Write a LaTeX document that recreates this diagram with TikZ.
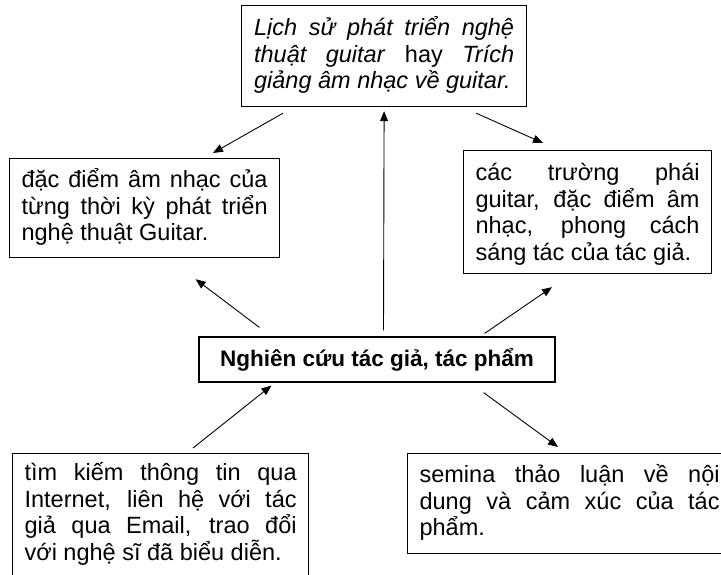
\documentclass[tikz,border=0pt]{standalone}
\usepackage{fontspec}
\setmainfont{Liberation Sans}
\usetikzlibrary{arrows.meta}

\hyphenpenalty=10000
\exhyphenpenalty=10000
\tolerance=10000

\newcommand{\boxfont}{\fontsize{23.5bp}{26.5bp}\selectfont}
\newcommand{\titlefont}{\fontsize{22.5bp}{26.5bp}\selectfont\bfseries}

\begin{document}
\begin{tikzpicture}[
    x=1bp, y=-1bp,
    every node/.style={font=\boxfont},
    box/.style={draw, line width=1.2bp, anchor=north west, align=justify, inner xsep=12bp, inner ysep=0pt},
    title/.style={draw, line width=1.2bp, minimum width=356bp, minimum height=45bp, font=\titlefont},
    arrow/.style={-{Triangle[length=10bp, width=8bp]}, line width=0.9bp}
]
\useasboundingbox (0,0) rectangle (721,575);

% central topic
\node[title] (topic) at (377,359.5) {Nghiên cứu tác giả, tác phẩm};

% boxes round it
\node[box, inner xsep=12.5bp, text width=260bp, text height=30bp, text depth=71bp] (history) at (241,5)
    {\textit{Lịch sử phát triển nghệ\linebreak thuật guitar} hay \textit{Trích\linebreak giảng âm nhạc về guitar.}};
\node[box, text width=246bp, text height=29bp, text depth=70bp] (period) at (9,158)
    {đặc điểm âm nhạc của\linebreak từng thời kỳ phát triển\linebreak nghệ thuật Guitar.};
\node[box, text width=224bp, text height=30bp, text depth=93bp] (school) at (463,150)
    {các trường phái\linebreak guitar, đặc điểm âm\linebreak nhạc, phong cách\linebreak sáng tác của tác giả.};
\node[box, text width=272bp, text height=27bp, text depth=130bp] (contact) at (12,453)
    {tìm kiếm thông tin qua\linebreak Internet, liên hệ với tác\linebreak giả qua Email, trao đổi\linebreak với nghệ sĩ đã biểu diễn.};
\node[box, text width=300bp, text height=29bp, text depth=71bp] (seminar) at (407,453)
    {semina thảo luận về nội\linebreak dung và cảm xúc của tác\linebreak phẩm.};

% arrows
\draw[arrow] ([shift={(42,6)}]history.south west) -- ([shift={(204,-5)}]period.north west);
\draw[arrow] ([shift={(-51,6)}]history.south east) -- ([shift={(80,-7)}]school.north west);
\draw[arrow] ([shift={(6.5,-6)}]topic.north) -- ([shift={(0,4)}]history.south);
\draw[arrow] ([shift={(61,-9)}]topic.north west) -- ([shift={(51,21)}]period.south);
\draw[arrow] ([shift={(-71,-3)}]topic.north east) -- ([shift={(89,13)}]school.south west);
\draw[arrow] ([shift={(181,-5)}]contact.north west) -- ([shift={(73,3)}]topic.south west);
\draw[arrow] ([shift={(-72,10)}]topic.south east) -- ([shift={(151,-6)}]seminar.north west);

\end{tikzpicture}
\end{document}
